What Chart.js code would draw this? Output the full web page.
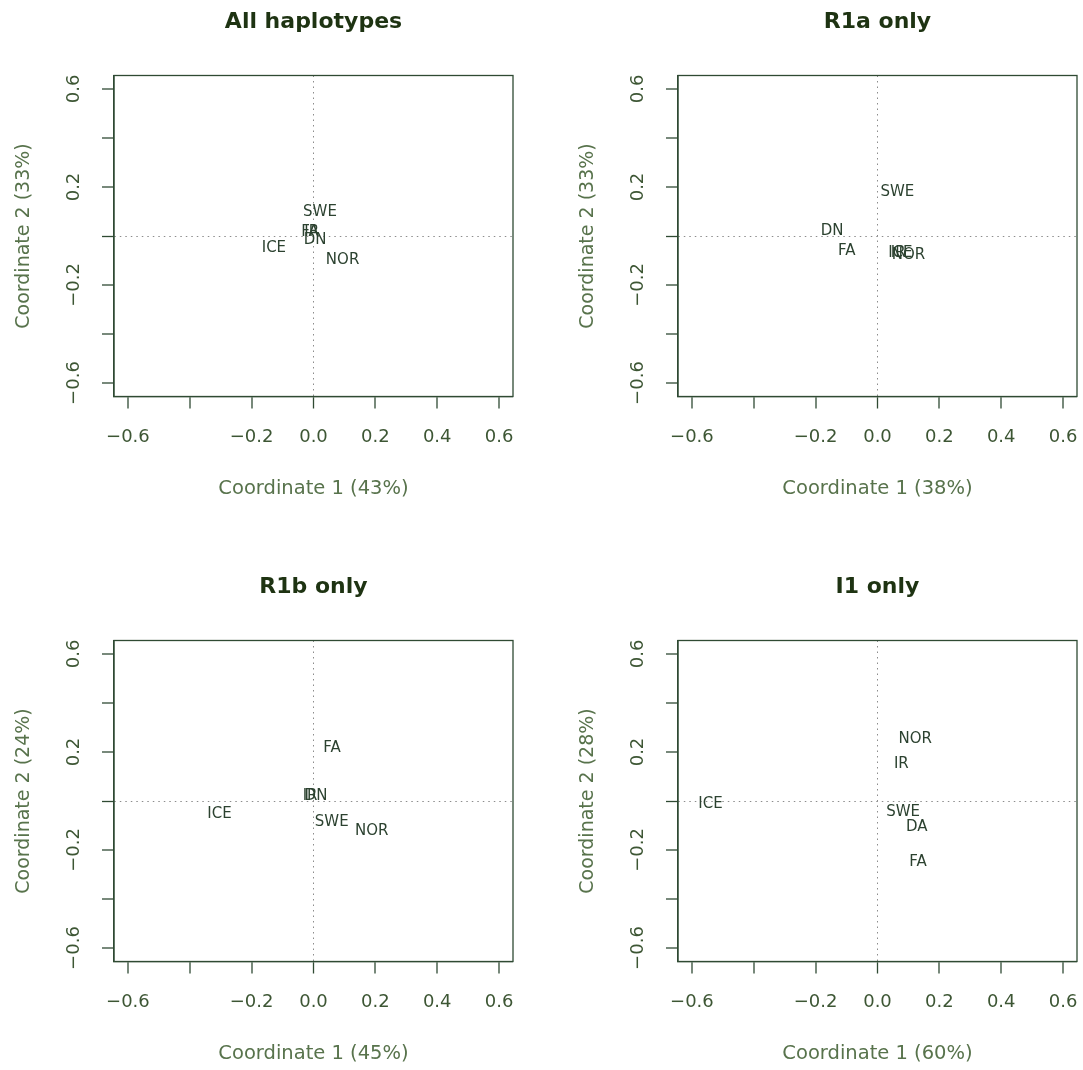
<!DOCTYPE html>
<html>
<head>
<meta charset="utf-8">
<title>MDS plots</title>
<script src="https://cdn.jsdelivr.net/npm/chart.js@4.4.0/dist/chart.umd.min.js"></script>
<style>
  html, body { margin: 0; padding: 0; background: #ffffff; }
  body { position: relative; width: 1083px; height: 1070px; overflow: hidden; }
  canvas { position: absolute; }
</style>
</head>
<body>
<canvas id="allPlot" width="519" height="505" style="left:0px;top:0px"></canvas>
<canvas id="r1aPlot" width="519" height="505" style="left:564px;top:0px"></canvas>
<canvas id="r1bPlot" width="519" height="505" style="left:0px;top:565px"></canvas>
<canvas id="i1Plot" width="519" height="505" style="left:564px;top:565px"></canvas>
<script>
// panel titles and explained variance per coordinate
const panelTitles = ['All haplotypes', 'R1a only', 'R1b only', 'I1 only'];
const coord1Pct = [43, 38, 45, 60];
const coord2Pct = [33, 33, 24, 28];

// tick positions, and which of them get a printed label
const tickValues = [-0.6, -0.4, -0.2, 0, 0.2, 0.4, 0.6];
const xLabelled = [-0.6, -0.2, 0, 0.2, 0.4, 0.6];
const yLabelled = [-0.6, -0.2, 0.2, 0.6];

// population coordinates, one set per haplogroup
const allNames = ['SWE', 'FA', 'IR', 'DN', 'ICE', 'NOR'];
const allX = [0.021, -0.011, -0.006, 0.005, -0.128, 0.094];
const allY = [0.096, 0.014, 0.014, -0.016, -0.050, -0.098];

const r1aNames = ['SWE', 'DN', 'FA', 'IR', 'ICE', 'NOR'];
const r1aX = [0.064, -0.147, -0.099, 0.067, 0.074, 0.100];
const r1aY = [0.180, 0.020, -0.060, -0.070, -0.070, -0.078];

const r1bNames = ['FA', 'IR', 'DN', 'ICE', 'SWE', 'NOR'];
const r1bX = [0.060, -0.011, 0.008, -0.304, 0.059, 0.188];
const r1bY = [0.216, 0.020, 0.020, -0.053, -0.086, -0.124];

const i1Names = ['NOR', 'IR', 'ICE', 'SWE', 'DA', 'FA'];
const i1X = [0.122, 0.077, -0.540, 0.083, 0.127, 0.131];
const i1Y = [0.253, 0.151, -0.012, -0.047, -0.106, -0.249];

const frameColor = '#2f4a33';
const tickTextColor = '#3d5634';
const axisTitleColor = '#58734c';
const titleColor = '#1e3312';
const pointTextColor = '#2c4230';
const zeroLineColor = '#8c8c8c';

const fmt = v => (Math.abs(v) < 1e-9 ? '0.0' : v.toFixed(1)).replace('-', '\u2212');
const isIn = (list, v) => list.some(t => Math.abs(t - v) < 1e-9);

// box around the plot region plus the population names at their coordinates
const boxAndNames = {
  id: 'boxAndNames',
  afterDatasetsDraw(chart) {
    const {ctx, chartArea: a} = chart;
    ctx.save();
    ctx.strokeStyle = frameColor;
    ctx.lineWidth = 1.3;
    ctx.strokeRect(a.left, a.top, a.right - a.left, a.bottom - a.top);
    ctx.fillStyle = pointTextColor;
    ctx.font = '15px "DejaVu Sans"';
    ctx.textAlign = 'center';
    ctx.textBaseline = 'middle';
    chart.data.datasets.forEach((ds, di) => {
      chart.getDatasetMeta(di).data.forEach((pt, i) => {
        ctx.fillText(ds.names[i], pt.x, pt.y);
      });
    });
    ctx.restore();
  }
};

function zeroLine(ctx) {
  return ctx.tick && Math.abs(ctx.tick.value) < 1e-9 ? 1 : 0;
}

function drawPanel(canvasId, idx, names, xs, ys) {
  const points = xs.map((x, i) => ({x: x, y: ys[i]}));
  new Chart(document.getElementById(canvasId), {
    type: 'scatter',
    data: {
      datasets: [{
        data: points,
        names: names,
        pointRadius: 0,
        pointHoverRadius: 0
      }]
    },
    options: {
      responsive: false,
      animation: false,
      events: [],
      layout: { padding: { left: 0, right: 6, top: 0, bottom: 0 } },
      plugins: {
        legend: { display: false },
        tooltip: { enabled: false },
        title: {
          display: true,
          fullSize: false,
          text: panelTitles[idx],
          color: titleColor,
          font: { family: 'DejaVu Sans', size: 22, weight: 'bold', lineHeight: 1.2 },
          padding: { top: 9.5, bottom: 39.6 }
        }
      },
      scales: {
        x: {
          type: 'linear',
          position: 'bottom',
          min: -0.645,
          max: 0.645,
          afterBuildTicks: s => { s.ticks = tickValues.map(v => ({value: v})); },
          afterFit: s => { s.height = 108.5; s.paddingLeft = 0; s.paddingRight = 0; },
          grid: {
            drawOnChartArea: true,
            drawTicks: true,
            tickLength: 12,
            tickColor: frameColor,
            tickWidth: 1.3,
            color: zeroLineColor,
            lineWidth: zeroLine
          },
          border: { display: true, color: frameColor, width: 1.3, dash: [1.5, 4] },
          ticks: {
            color: tickTextColor,
            font: { family: 'DejaVu Sans', size: 18, lineHeight: 1.2 },
            padding: 17.7,
            maxRotation: 0,
            autoSkip: false,
            callback: v => isIn(xLabelled, v) ? fmt(v) : ''
          },
          title: {
            display: true,
            text: 'Coordinate 1 (' + coord1Pct[idx] + '%)',
            color: axisTitleColor,
            font: { family: 'DejaVu Sans', size: 19.5, lineHeight: 1.2 },
            padding: { top: 0, bottom: 4.5 }
          }
        },
        y: {
          type: 'linear',
          position: 'left',
          min: -0.655,
          max: 0.655,
          afterBuildTicks: s => { s.ticks = tickValues.map(v => ({value: v})); },
          afterFit: s => { s.width = 114; s.paddingTop = 0; s.paddingBottom = 0; },
          grid: {
            drawOnChartArea: true,
            drawTicks: true,
            tickLength: 12,
            tickColor: frameColor,
            tickWidth: 1.3,
            color: zeroLineColor,
            lineWidth: zeroLine
          },
          border: { display: true, color: frameColor, width: 1.3, dash: [1.5, 4] },
          ticks: {
            color: tickTextColor,
            font: { family: 'DejaVu Sans', size: 18, lineHeight: 1.2 },
            padding: 6,
            minRotation: 90,
            maxRotation: 90,
            crossAlign: 'center',
            autoSkip: false,
            callback: v => isIn(yLabelled, v) ? fmt(v) : ''
          },
          title: {
            display: true,
            text: 'Coordinate 2 (' + coord2Pct[idx] + '%)',
            color: axisTitleColor,
            font: { family: 'DejaVu Sans', size: 19, lineHeight: 1.2 },
            padding: { top: 13, bottom: 0 }
          }
        }
      }
    },
    plugins: [boxAndNames]
  });
}

drawPanel('allPlot', 0, allNames, allX, allY);
drawPanel('r1aPlot', 1, r1aNames, r1aX, r1aY);
drawPanel('r1bPlot', 2, r1bNames, r1bX, r1bY);
drawPanel('i1Plot', 3, i1Names, i1X, i1Y);
</script>
</body>
</html>
